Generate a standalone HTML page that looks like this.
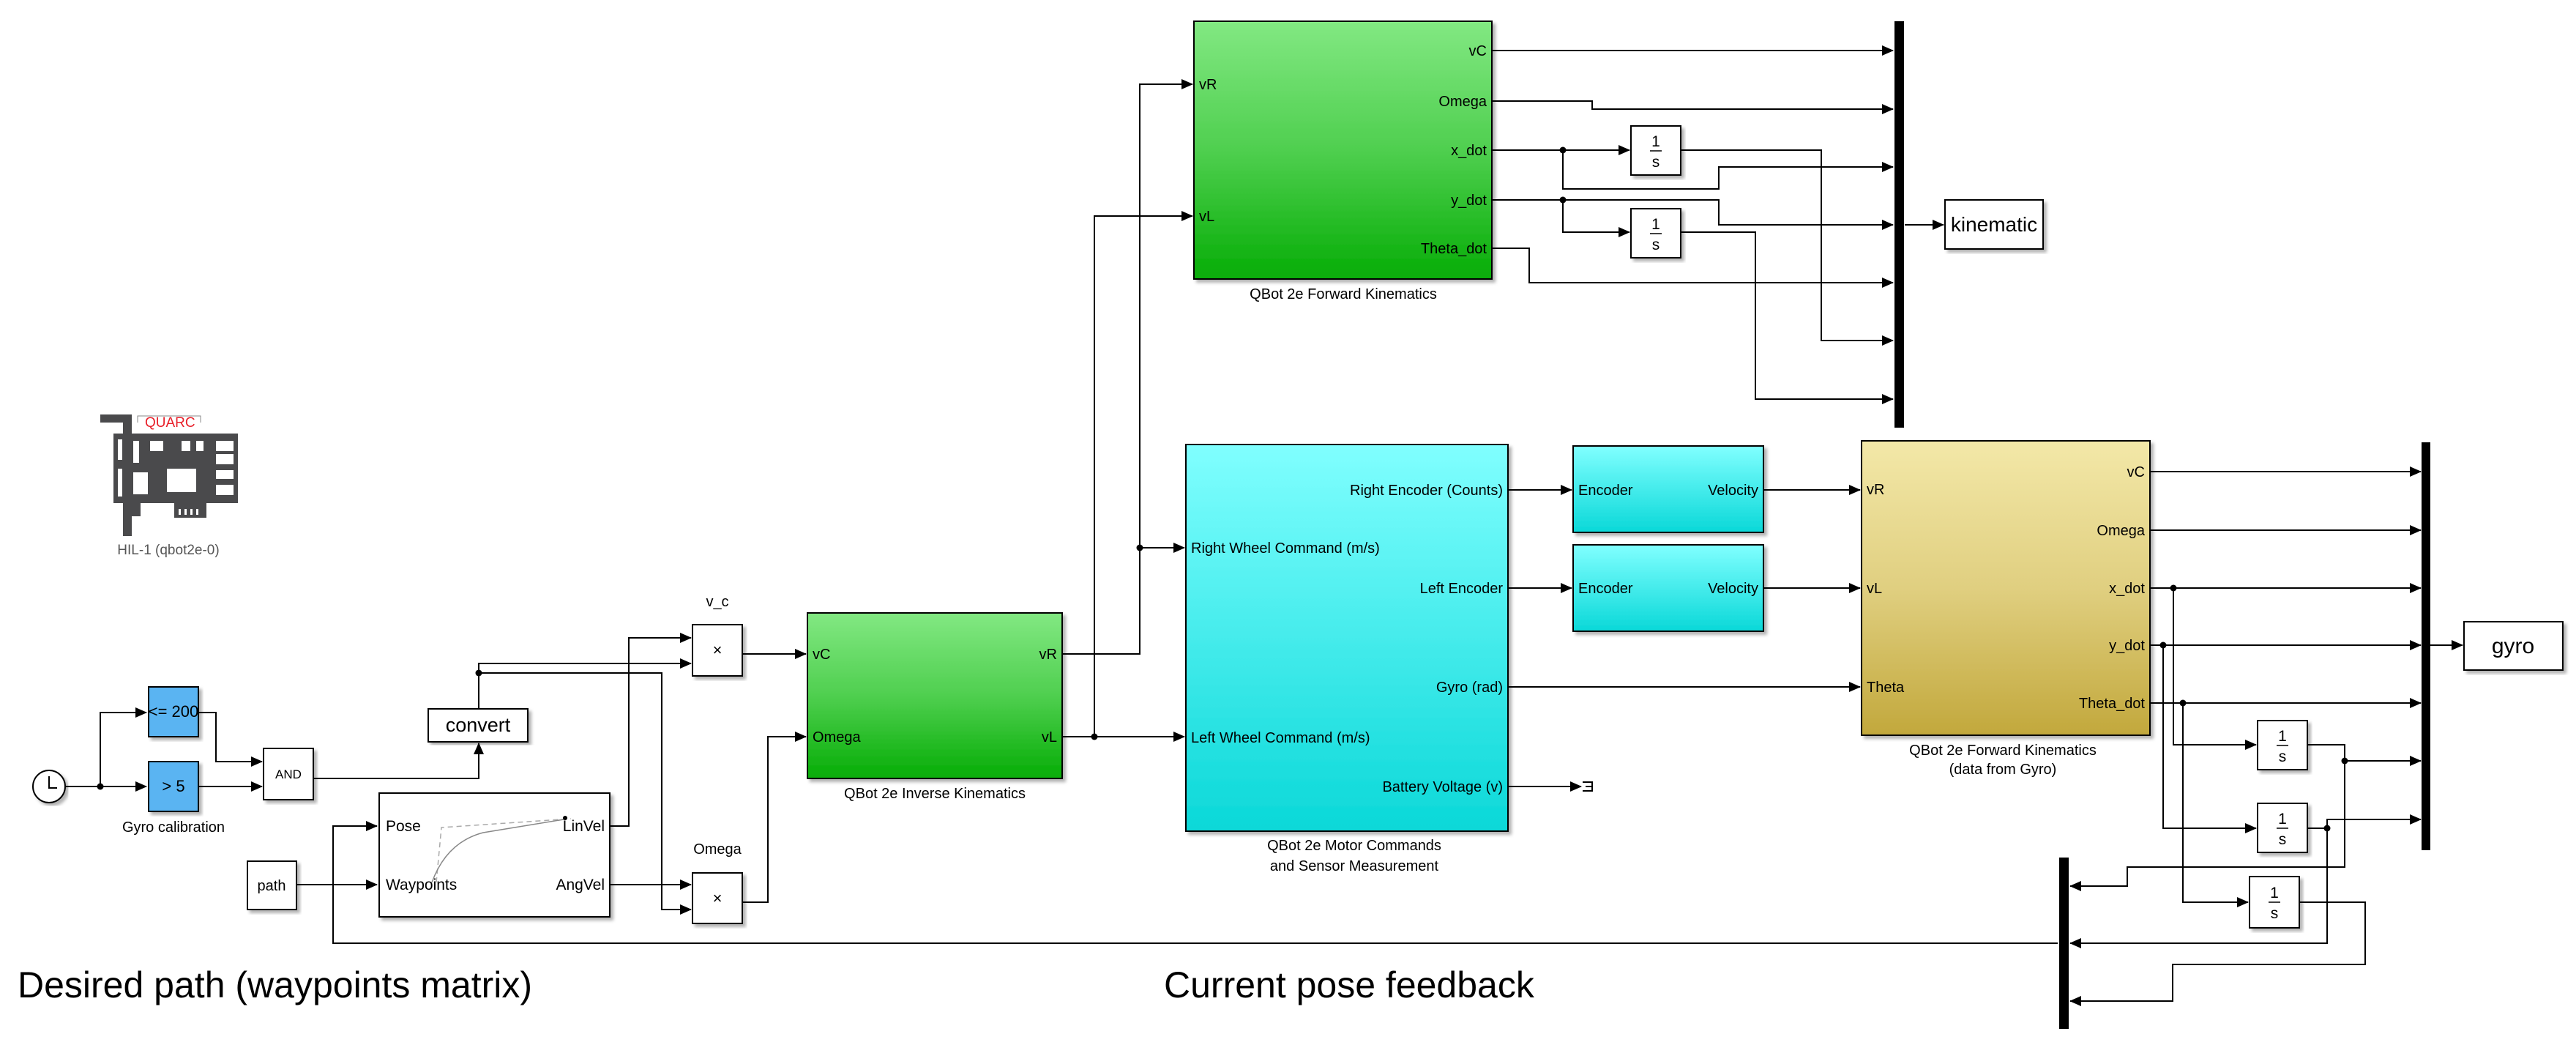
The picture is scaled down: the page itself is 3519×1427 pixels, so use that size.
<!DOCTYPE html>
<html><head><meta charset="utf-8"><style>
html,body{margin:0;padding:0;background:#fff;}
svg{display:block;font-family:"Liberation Sans",Arial,sans-serif;}
</style></head><body>
<svg width="3519" height="1427" viewBox="0 0 3519 1427" xmlns="http://www.w3.org/2000/svg">
<defs>
<marker id="a" markerUnits="userSpaceOnUse" markerWidth="16" markerHeight="14" refX="15" refY="7" orient="auto"><path d="M0,0 L16,7 L0,14 z" fill="#000"/></marker>
<linearGradient id="g" x1="0" y1="0" x2="0" y2="1"><stop offset="0" stop-color="#82e882"/><stop offset="0.5" stop-color="#4fcf4f"/><stop offset="1" stop-color="#06ad06"/></linearGradient>
<linearGradient id="c" x1="0" y1="0" x2="0" y2="1"><stop offset="0" stop-color="#80ffff"/><stop offset="1" stop-color="#0ad8d8"/></linearGradient>
<linearGradient id="y" x1="0" y1="0" x2="0" y2="1"><stop offset="0" stop-color="#f3e8a8"/><stop offset="0.5" stop-color="#e0cf80"/><stop offset="1" stop-color="#c2a83c"/></linearGradient>
<filter id="s" x="-5%" y="-5%" width="115%" height="115%"><feDropShadow dx="4" dy="4" stdDeviation="2" flood-color="#000" flood-opacity="0.3"/></filter>
</defs>

<!-- HIL icon -->
<g fill="#4a4a4c">
<rect x="137" y="566" width="43" height="11"/>
<rect x="168" y="566" width="12" height="166"/>
<rect x="155" y="592" width="170" height="95"/>
<rect x="180" y="687" width="12" height="18"/>
<rect x="238" y="687" width="44" height="20"/>
</g>
<g fill="#fff">
<rect x="161" y="600" width="6" height="28"/><rect x="182" y="602" width="8" height="30"/>
<rect x="205" y="602" width="18" height="14"/><rect x="248" y="602" width="12" height="14"/><rect x="268" y="602" width="10" height="14"/>
<rect x="295" y="602" width="24" height="14"/><rect x="295" y="620" width="24" height="14"/><rect x="295" y="642" width="24" height="12"/><rect x="295" y="662" width="24" height="14"/>
<rect x="161" y="640" width="6" height="38"/><rect x="182" y="645" width="20" height="30"/>
<rect x="228" y="640" width="40" height="32"/>
<rect x="244" y="695" width="3" height="8"/><rect x="252" y="695" width="3" height="8"/><rect x="260" y="695" width="3" height="8"/><rect x="268" y="695" width="3" height="8"/>
</g>
<path d="M188,577 V568 H274 V577" fill="none" stroke="#888" stroke-width="1"/>
<text x="198" y="583" font-size="19" fill="#e8202a">QUARC</text>
<text x="230" y="757" font-size="19" fill="#555" text-anchor="middle">HIL-1 (qbot2e-0)</text>

<!-- wires -->
<g fill="none" stroke="#000" stroke-width="2">
<path d="M90,1074 H200" marker-end="url(#a)"/>
<path d="M137,1074 V973 H200" marker-end="url(#a)"/>
<path d="M271,973 H295 V1040 H358" marker-end="url(#a)"/>
<path d="M271,1074 H358" marker-end="url(#a)"/>
<path d="M428,1063 H654 V1015" marker-end="url(#a)"/>
<path d="M654,968 V906 H944" marker-end="url(#a)"/>
<path d="M654,919 H904 V1242 H944" marker-end="url(#a)"/>
<path d="M833,1128 H859 V871 H944" marker-end="url(#a)"/>
<path d="M833,1208 H944" marker-end="url(#a)"/>
<path d="M405,1208 H515" marker-end="url(#a)"/>
<path d="M1014,893 H1101" marker-end="url(#a)"/>
<path d="M1014,1232 H1049 V1006 H1101" marker-end="url(#a)"/>
<path d="M1451,893 H1557 V115 H1629" marker-end="url(#a)"/>
<path d="M1557,748 H1618" marker-end="url(#a)"/>
<path d="M1451,1006 H1618" marker-end="url(#a)"/>
<path d="M1495,1006 V295 H1629" marker-end="url(#a)"/>
<path d="M2811,1288 H455 V1128 H515" marker-end="url(#a)"/>
<path d="M2038,69 H2586" marker-end="url(#a)"/>
<path d="M2038,138 H2175 V149 H2586" marker-end="url(#a)"/>
<path d="M2038,205 H2226" marker-end="url(#a)"/>
<path d="M2135,205 V258 H2348 V228 H2586" marker-end="url(#a)"/>
<path d="M2038,273 H2348 V307 H2586" marker-end="url(#a)"/>
<path d="M2135,273 V317 H2226" marker-end="url(#a)"/>
<path d="M2038,339 H2089 V386 H2586" marker-end="url(#a)"/>
<path d="M2296,205 H2488 V465 H2586" marker-end="url(#a)"/>
<path d="M2296,317 H2398 V545 H2586" marker-end="url(#a)"/>
<path d="M2602,307 H2655" marker-end="url(#a)"/>
<path d="M2060,669 H2147" marker-end="url(#a)"/>
<path d="M2060,803 H2147" marker-end="url(#a)"/>
<path d="M2409,669 H2541" marker-end="url(#a)"/>
<path d="M2409,803 H2541" marker-end="url(#a)"/>
<path d="M2060,938 H2541" marker-end="url(#a)"/>
<path d="M2060,1074 H2160" marker-end="url(#a)"/>
<path d="M2937,644 H3307" marker-end="url(#a)"/>
<path d="M2937,724 H3307" marker-end="url(#a)"/>
<path d="M2937,803 H3307" marker-end="url(#a)"/>
<path d="M2937,881 H3307" marker-end="url(#a)"/>
<path d="M2937,960 H3307" marker-end="url(#a)"/>
<path d="M3320,881 H3364" marker-end="url(#a)"/>
<path d="M2969,803 V1017 H3082" marker-end="url(#a)"/>
<path d="M2955,881 V1131 H3082" marker-end="url(#a)"/>
<path d="M2982,960 V1232 H3071" marker-end="url(#a)"/>
<path d="M3152,1017 H3203 V1039 H3307" marker-end="url(#a)"/>
<path d="M3203,1039 V1184 H2906 V1210 H2828" marker-end="url(#a)"/>
<path d="M3152,1131 H3179 V1119 H3307" marker-end="url(#a)"/>
<path d="M3179,1131 V1288 H2828" marker-end="url(#a)"/>
<path d="M3141,1232 H3231 V1317 H2968 V1367 H2828" marker-end="url(#a)"/>
</g>
<path d="M2162,1068 H2175 V1080 H2162 M2166,1074 H2175" fill="none" stroke="#000" stroke-width="2"/>
<g fill="#000">
<circle cx="137" cy="1074" r="4.5"/><circle cx="654" cy="919" r="4.5"/>
<circle cx="1557" cy="748" r="4.5"/><circle cx="1495" cy="1006" r="4.5"/>
<circle cx="2135" cy="205" r="4.5"/><circle cx="2135" cy="273" r="4.5"/>
<circle cx="2969" cy="803" r="4.5"/><circle cx="2955" cy="881" r="4.5"/><circle cx="2982" cy="960" r="4.5"/>
<circle cx="3203" cy="1039" r="4.5"/><circle cx="3179" cy="1131" r="4.5"/>
</g>

<circle cx="67" cy="1074" r="22" fill="#fff" stroke="#000" stroke-width="2" filter="url(#s)"/>
<path d="M67,1060 V1076 H78" fill="none" stroke="#000" stroke-width="2"/>

<g stroke="#000" stroke-width="2">
<rect x="203" y="938" width="68" height="68" fill="#5ab4f2" filter="url(#s)"/>
<rect x="203" y="1040" width="68" height="68" fill="#5ab4f2" filter="url(#s)"/>
<rect x="360" y="1022" width="68" height="70" fill="#fff" filter="url(#s)"/>
<rect x="585" y="968" width="136" height="45" fill="#fff" filter="url(#s)"/>
<rect x="946" y="853" width="68" height="70" fill="#fff" filter="url(#s)"/>
<rect x="946" y="1192" width="68" height="69" fill="#fff" filter="url(#s)"/>
<rect x="338" y="1176" width="67" height="66" fill="#fff" filter="url(#s)"/>
<rect x="518" y="1083" width="315" height="169" fill="#fff" filter="url(#s)"/>
<rect x="1103" y="837" width="348" height="226" fill="url(#g)" filter="url(#s)"/>
<rect x="1631" y="29" width="407" height="352" fill="url(#g)" filter="url(#s)"/>
<rect x="1620" y="607" width="440" height="528" fill="url(#c)" filter="url(#s)"/>
<rect x="2149" y="609" width="260" height="118" fill="url(#c)" filter="url(#s)"/>
<rect x="2149" y="744" width="260" height="118" fill="url(#c)" filter="url(#s)"/>
<rect x="2543" y="602" width="394" height="402" fill="url(#y)" filter="url(#s)"/>
<rect x="2228" y="172" width="68" height="67" fill="#fff" filter="url(#s)"/>
<rect x="2228" y="285" width="68" height="67" fill="#fff" filter="url(#s)"/>
<rect x="2657" y="273" width="134" height="67" fill="#fff" filter="url(#s)"/>
<rect x="3366" y="849" width="135" height="66" fill="#fff" filter="url(#s)"/>
<rect x="3084" y="984" width="68" height="67" fill="#fff" filter="url(#s)"/>
<rect x="3084" y="1097" width="68" height="67" fill="#fff" filter="url(#s)"/>
<rect x="3073" y="1197" width="68" height="70" fill="#fff" filter="url(#s)"/>
</g>
<rect x="2588" y="29" width="13" height="555" fill="#000"/>
<rect x="3308" y="604" width="12" height="557" fill="#000"/>
<rect x="2813" y="1171" width="13" height="234" fill="#000"/>

<path d="M596,1205 L603,1130 L780,1118" fill="none" stroke="#aaa" stroke-width="1.5" stroke-dasharray="7,5"/>
<path d="M590,1205 Q610,1150 660,1137 L770,1119" fill="none" stroke="#888" stroke-width="1.5"/>
<circle cx="772" cy="1117" r="3" fill="#000"/>

<g font-size="20" fill="#000">
<text x="237" y="979" text-anchor="middle" font-size="22">&lt;= 200</text>
<text x="237" y="1081" text-anchor="middle" font-size="22">&gt; 5</text>
<text x="237" y="1136" text-anchor="middle">Gyro calibration</text>
<text x="394" y="1063" text-anchor="middle" font-size="17">AND</text>
<text x="653" y="999" text-anchor="middle" font-size="27">convert</text>
<text x="980" y="828" text-anchor="middle">v_c</text>
<text x="980" y="895" text-anchor="middle" font-size="22">×</text>
<text x="980" y="1166" text-anchor="middle">Omega</text>
<text x="980" y="1234" text-anchor="middle" font-size="22">×</text>
<text x="371" y="1216" text-anchor="middle">path</text>
<text x="527" y="1135" font-size="21">Pose</text>
<text x="527" y="1215" font-size="21">Waypoints</text>
<text x="826" y="1135" font-size="21" text-anchor="end">LinVel</text>
<text x="826" y="1215" font-size="21" text-anchor="end">AngVel</text>
<text x="1110" y="900">vC</text>
<text x="1110" y="1013">Omega</text>
<text x="1444" y="900" text-anchor="end">vR</text>
<text x="1444" y="1013" text-anchor="end">vL</text>
<text x="1277" y="1090" text-anchor="middle">QBot 2e Inverse Kinematics</text>
<text x="1638" y="122">vR</text>
<text x="1638" y="302">vL</text>
<text x="2031" y="76" text-anchor="end">vC</text>
<text x="2031" y="145" text-anchor="end">Omega</text>
<text x="2031" y="212" text-anchor="end">x_dot</text>
<text x="2031" y="280" text-anchor="end">y_dot</text>
<text x="2031" y="346" text-anchor="end">Theta_dot</text>
<text x="1835" y="408" text-anchor="middle">QBot 2e Forward Kinematics</text>
<text x="1627" y="755">Right Wheel Command (m/s)</text>
<text x="1627" y="1014">Left Wheel Command (m/s)</text>
<text x="2053" y="676" text-anchor="end">Right Encoder (Counts)</text>
<text x="2053" y="810" text-anchor="end">Left Encoder</text>
<text x="2053" y="945" text-anchor="end">Gyro (rad)</text>
<text x="2053" y="1081" text-anchor="end">Battery Voltage (v)</text>
<text x="1850" y="1161" text-anchor="middle">QBot 2e Motor Commands</text>
<text x="1850" y="1189" text-anchor="middle">and Sensor Measurement</text>
<text x="2156" y="676">Encoder</text><text x="2402" y="676" text-anchor="end">Velocity</text>
<text x="2156" y="810">Encoder</text><text x="2402" y="810" text-anchor="end">Velocity</text>
<text x="2550" y="675">vR</text><text x="2550" y="810">vL</text><text x="2550" y="945">Theta</text>
<text x="2930" y="651" text-anchor="end">vC</text>
<text x="2930" y="731" text-anchor="end">Omega</text>
<text x="2930" y="810" text-anchor="end">x_dot</text>
<text x="2930" y="888" text-anchor="end">y_dot</text>
<text x="2930" y="967" text-anchor="end">Theta_dot</text>
<text x="2736" y="1031" text-anchor="middle">QBot 2e Forward Kinematics</text>
<text x="2736" y="1057" text-anchor="middle">(data from Gyro)</text>
<text x="2724" y="316" text-anchor="middle" font-size="28">kinematic</text>
<text x="3433" y="892" text-anchor="middle" font-size="30">gyro</text>
</g>
<g font-size="21" text-anchor="middle">
<text x="2262" y="200">1</text><line x1="2254" y1="206" x2="2270" y2="206" stroke="#000" stroke-width="1.5"/><text x="2262" y="228">s</text>
<text x="2262" y="313">1</text><line x1="2254" y1="319" x2="2270" y2="319" stroke="#000" stroke-width="1.5"/><text x="2262" y="341">s</text>
<text x="3118" y="1012">1</text><line x1="3110" y1="1018" x2="3126" y2="1018" stroke="#000" stroke-width="1.5"/><text x="3118" y="1040">s</text>
<text x="3118" y="1125">1</text><line x1="3110" y1="1131" x2="3126" y2="1131" stroke="#000" stroke-width="1.5"/><text x="3118" y="1153">s</text>
<text x="3107" y="1226">1</text><line x1="3099" y1="1232" x2="3115" y2="1232" stroke="#000" stroke-width="1.5"/><text x="3107" y="1254">s</text>
</g>
<text x="24" y="1362" font-size="50">Desired path (waypoints matrix)</text>
<text x="1590" y="1362" font-size="50">Current pose feedback</text>
</svg>
</body></html>
